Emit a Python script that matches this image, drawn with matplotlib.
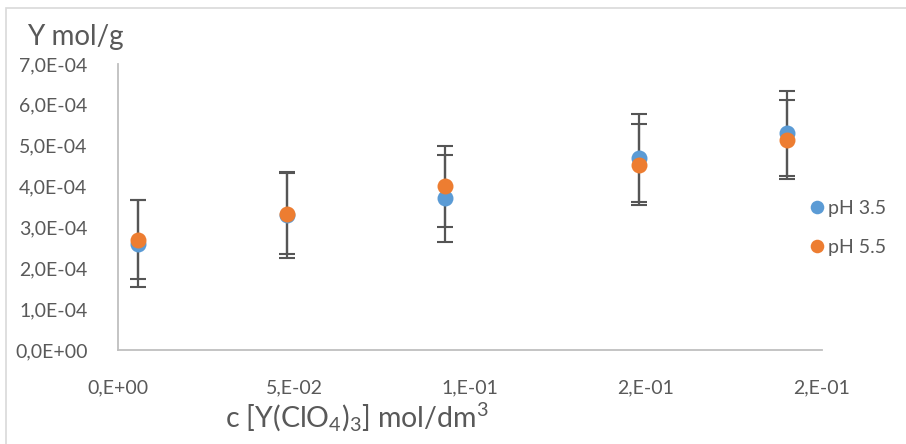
import numpy as np
import matplotlib
matplotlib.use("Agg")
import matplotlib.pyplot as plt
from matplotlib.patches import Rectangle

# concentration c [Y(ClO4)3] in mol/dm3
conc = [0.0057, 0.048, 0.093, 0.148, 0.190]

# sorbed Y in mol/g, pH 3.5 and pH 5.5
y_ph35 = [2.60e-4, 3.30e-4, 3.71e-4, 4.70e-4, 5.30e-4]
err_ph35 = [1.06e-4, 1.05e-4, 1.07e-4, 1.07e-4, 1.04e-4]
y_ph55 = [2.70e-4, 3.34e-4, 4.01e-4, 4.53e-4, 5.15e-4]
err_ph55 = [0.96e-4, 0.99e-4, 0.99e-4, 0.99e-4, 0.96e-4]

series_names = ["pH 3.5", "pH 5.5"]
xticks = [0.0, 0.05, 0.10, 0.15, 0.20]
xtick_labels = ["0,E+00", "5,E-02", "1,E-01", "2,E-01", "2,E-01"]
yticks = [0, 1e-4, 2e-4, 3e-4, 4e-4, 5e-4, 6e-4, 7e-4]
ytick_labels = ["0,0E+00", "1,0E-04", "2,0E-04", "3,0E-04",
                "4,0E-04", "5,0E-04", "6,0E-04", "7,0E-04"]

plt.rcParams["font.family"] = ["Lato", "DejaVu Sans"]
plt.rcParams["mathtext.fontset"] = "custom"
plt.rcParams["mathtext.rm"] = "Lato"
plt.rcParams["mathtext.it"] = "Lato"

txt = "#595959"
W, H = 906, 444
fig = plt.figure(figsize=(W / 100, H / 100), dpi=100)
ax = fig.add_axes([118 / W, (H - 350) / H, (822 - 118) / W, (350 - 64) / H])

# chart frame
fig.patches.append(Rectangle((6 / W, -0.05), 1.0, (H - 8) / H + 0.05,
                             transform=fig.transFigure, fill=False,
                             edgecolor="#D9D9D9", lw=1.2))

ax.errorbar(conc, y_ph35, yerr=err_ph35, fmt="none", ecolor="#555555",
            elinewidth=1.6, capsize=6, capthick=1.5, zorder=2)
ax.errorbar(conc, y_ph55, yerr=err_ph55, fmt="none", ecolor="#555555",
            elinewidth=1.6, capsize=6, capthick=1.5, zorder=2)
ax.plot(conc, y_ph35, "o", color="#5B9BD5", ms=11.5, mew=0,
        label=series_names[0], zorder=3)
ax.plot(conc, y_ph55, "o", color="#ED7D31", ms=11.5, mew=0,
        label=series_names[1], zorder=4)

ax.set_xlim(0, 0.2)
ax.set_ylim(0, 7e-4)
ax.set_xticks(xticks)
ax.set_xticklabels(xtick_labels)
ax.set_yticks(yticks)
ax.set_yticklabels(ytick_labels)
ax.tick_params(length=0, labelsize=14, colors=txt)
ax.tick_params(axis="x", pad=21)
ax.tick_params(axis="y", pad=22)

for s in ["top", "right"]:
    ax.spines[s].set_visible(False)
for s in ["left", "bottom"]:
    ax.spines[s].set_color("#BFBFBF")
    ax.spines[s].set_linewidth(1.3)

fig.text(27 / W, (H - 45) / H, "Y mol/g", fontsize=20, color=txt,
         va="baseline", ha="left")
fig.text(225 / W, (H - 427) / H, r"c [Y(ClO$_4$)$_3$] mol/dm$^3$",
         fontsize=20.5, color=txt, va="baseline", ha="left")

leg = ax.legend(loc="center left", bbox_to_anchor=(801 / W, (H - 228) / H),
                bbox_transform=fig.transFigure, frameon=False, fontsize=14,
                labelcolor=txt, handlelength=0.6, handletextpad=0.3,
                labelspacing=1.1, markerscale=0.85, borderpad=0)

fig.savefig("out.png", dpi=100)
